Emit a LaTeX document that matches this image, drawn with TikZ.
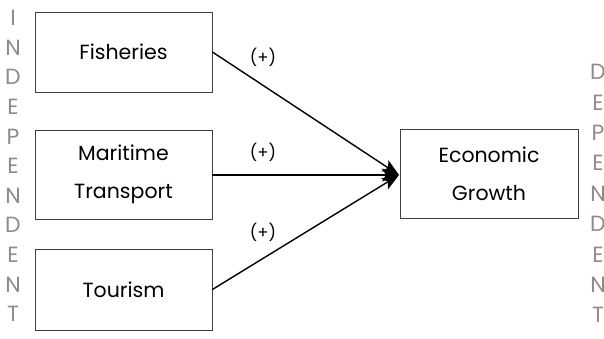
\documentclass[tikz,border=0pt]{standalone}
\usepackage{fontspec}
\setmainfont{Poppins}
\usetikzlibrary{arrows.meta}
\begin{document}
\begin{tikzpicture}[x=1pt,y=-1pt,
  varbox/.style={draw=black!75,line width=0.8pt,minimum width=177pt,inner sep=0pt,align=center,font=\fontsize{20.5}{38}\selectfont},
  conn/.style={line width=1.4pt,-{Stealth[length=17pt,width=13pt,inset=4pt]}},
  sign/.style={font=\fontsize{16.5}{18}\selectfont},
  side/.style={text=black!45,font=\fontsize{22}{22}\selectfont,align=center}]
\useasboundingbox (0,0) rectangle (604,339);
\node[varbox,minimum height=80pt] (fish) at (123.5,52) {Fisheries};
\node[varbox,minimum height=89pt] (mari) at (123.5,174.5) {Maritime\\Transport};
\node[varbox,minimum height=81pt] (tour) at (123.5,289.5) {Tourism};
\node[varbox,minimum height=89pt,minimum width=178pt] (eco) at (489,173.5) {Economic\\Growth};
\coordinate (tip) at (399,175);
\draw[conn] (fish.east) -- (tip);
\draw[conn] (mari.east |- tip) -- (tip);
\draw[conn] (tour.east) -- (tip);
\node[sign] (s1) at (263,57) {(+)};
\node[sign] (s2) at (263,152) {(+)};
\node[sign] (s3) at (263,232) {(+)};
\foreach \l [count=\i] in {I,N,D,E,P,E,N,D,E,N,T}
  \node[side] (l\i) at (13,{18+(\i-1)*29.6}) {\l};
\foreach \l [count=\i] in {D,E,P,E,N,D,E,N,T}
  \node[side] (r\i) at (598,{72+(\i-1)*30.4}) {\l};
\end{tikzpicture}
\end{document}
